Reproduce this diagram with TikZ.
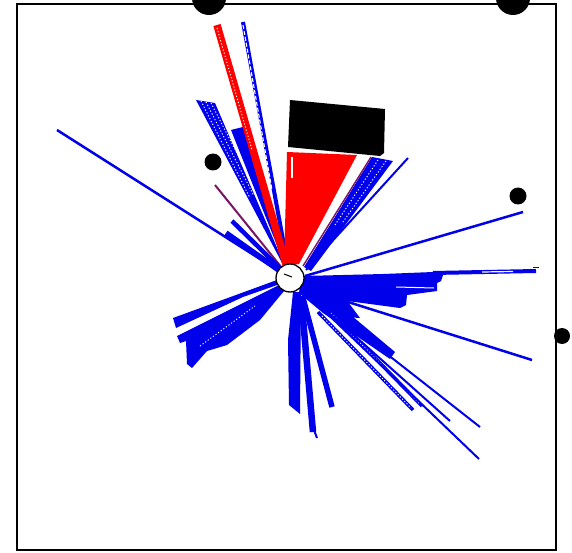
\documentclass[tikz,border=0pt]{standalone}
\definecolor{rb}{RGB}{0,0,235}
\definecolor{rr}{RGB}{255,0,0}
\definecolor{pp}{RGB}{120,20,100}
\begin{document}
\begin{tikzpicture}[x=1pt,y=-1pt,
  hatch/.style={draw=white, line width=0.9pt, dash pattern=on 1.2pt off 2pt},
  hollow/.style={draw=white, line width=1.1pt, dash pattern=on 4pt off 2pt},
  dot/.style={fill=black}]
\useasboundingbox (0,0) rectangle (572,553);
\fill[white] (0,0) rectangle (572,553);
\coordinate (C) at (290,278);
\begin{scope}
\clip (0,0) rectangle (572,553);
% ---- upper left rays
\fill[rb] (C) -- (196,100) -- (215,103) -- cycle;
\draw[hatch] (201,101) -- (250,198);
\draw[hatch] (206,102) -- (254,196);
\draw[hatch] (211,103) -- (258,194);
\fill[rb] (C) -- (231,130) -- (243,127) -- cycle;
\draw[rb, line width=4pt] (243,22) -- (C);
\draw[hollow] (243,25) -- (272,190);
\draw[rr, line width=7.5pt] (217,25) -- (C);
\draw[hatch] (217,28) -- (252,150);
\draw[pp, line width=2pt] (215,185) -- (C);
\draw[rb, line width=4.5pt] (232,221) -- (C);
\draw[rb, line width=5.5pt] (226,233) -- (C);
\draw[rb, line width=2.5pt] (57,130) -- (C);
% ---- upper right rays
\fill[rr] (284,266) -- (287,152) -- (357,155) -- (299,264) -- cycle;
\draw[white, line width=1.5pt] (292,157) -- (292,178);
\fill[rb] (304,267) -- (372,157) -- (393,161) -- (311,271) -- cycle;
\draw[pp, line width=1.4pt] (303,266) -- (371,157);
\draw[hatch] (378,160) -- (335,225);
\draw[hatch] (386,161) -- (343,222);
\draw[rb, line width=2pt] (408,158) -- (306,270);
\draw[rb, line width=2.5pt] (523,212) -- (305,276);
% ---- right fan
\fill[rb] (303,276) -- (383,274) -- (433,272) -- (443,275) -- (441,281) -- (437,283)
  -- (437,291) -- (407,295) -- (406,305) -- (400,308) -- (340,300) -- (303,288) -- cycle;
\draw[white, line width=1pt] (396,287) -- (434,288);
\draw[rb, line width=4pt] (433,273) -- (536,271);
\draw[white, line width=1.2pt] (482,272) -- (513,271.5);
\draw[rb, line width=1.4pt] (533,267.5) -- (539,267.5);
\draw[rb, line width=2.5pt] (310,290) -- (532,360);
% ---- lower right
\fill[rb] (300,284) -- (345,298) -- (360,318) -- (330,316) -- (299,293) -- cycle;
\fill[rb] (302,285) -- (342,302) -- (346,311) -- (395,352) -- (390,359) -- (323,313) -- (299,293) -- cycle;
\draw[rb, line width=3.5pt] (318,312) -- (413,410);
\draw[rb, line width=3.5pt] (327,309) -- (422,406);
\draw[hatch] (322,316) -- (411,408);
\draw[hatch] (331,313) -- (420,404);
\draw[rb, line width=2pt] (C) -- (480,427);
\draw[rb, line width=2pt] (C) -- (450,421);
\draw[rb, line width=2pt] (C) -- (479,459);
% ---- lower
\fill[rb] (293,292) -- (301,292) -- (300,414) -- (289,405) -- (288,340) -- cycle;
\draw[rb, line width=6.5pt] (301,296) -- (313,432);
\draw[rb, line width=2pt] (314,430) -- (317,438);
\draw[rb, line width=5.5pt] (303,298) -- (332,407);
% ---- lower left
\fill[rb] (277,280) -- (173,318) -- (176,328) -- (243,297) -- (280,284) -- cycle;
\fill[rb] (279,285) -- (177,336) -- (180,343) -- (186,341) -- (187,364) -- (192,368)
  -- (207,351) -- (227,345) -- (260,320) -- (284,291) -- cycle;
\draw[hatch] (200,346) -- (255,306);
% ---- robot
\node[circle, draw=black, fill=white, line width=1.3pt, minimum size=28pt, inner sep=0pt] (robot) at (C) {};
\draw[line width=1pt] (284,274) -- (292,277);
% ---- obstacles
\fill[black] (290,100) -- (385,109) -- (384,153) -- (380,156) -- (288,147) -- cycle;
\draw[line width=1.5pt] (17,4) rectangle (556,550);
\fill[dot] (209,-2) circle (17);
\fill[dot] (513,-2) circle (17);
\fill[dot] (213,162) circle (8.5);
\fill[dot] (518,196) circle (8.5);
\fill[dot] (562,336) circle (8);
\end{scope}
\end{tikzpicture}
\end{document}
